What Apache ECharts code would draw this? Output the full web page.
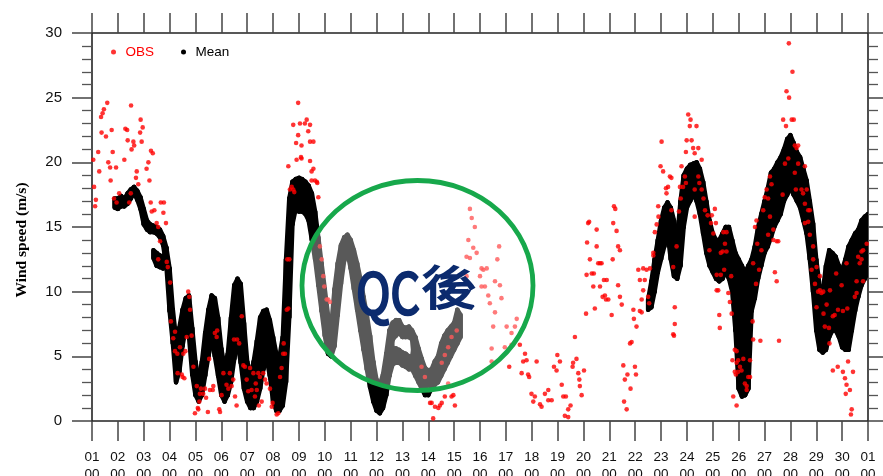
<!DOCTYPE html>
<html>
<head>
<meta charset="utf-8">
<script src="https://cdn.jsdelivr.net/npm/echarts@6/dist/echarts.min.js"></script>
<style>html,body{margin:0;padding:0;background:#fff}#c{width:883px;height:476px}</style>
</head>
<body>
<div id="c"></div>
<script>
// ---- tick labels ----
var xDayLabels = ['01','02','03','04','05','06','07','08','09','10','11','12','13','14','15','16','17','18','19','20','21','22','23','24','25','26','27','28','29','30','01'];
var xHourLabel = '00';
var yTickValues = [0, 5, 10, 15, 20, 25, 30];

// ---- OBS: [day, wind speed] ----
var obsPoints = [
[1.05,20.2],[1.08,18.1],[1.12,16.6],[1.15,17.1],[1.24,20.8],[1.28,19.3],[1.35,23.5],[1.37,22.3],[1.41,23.8],[1.46,24.1],
[1.54,22.0],[1.59,24.6],[1.63,20.0],[1.70,19.6],[1.72,18.6],[1.76,22.5],[1.80,20.8],[1.85,17.2],[1.93,19.6],[1.95,16.9],
[2.05,17.6],[2.25,20.2],[2.29,22.6],[2.36,22.5],[2.38,21.7],[2.44,16.9],[2.50,17.6],[2.51,24.4],[2.53,21.0],[2.60,21.6],
[2.63,21.3],[2.70,18.8],[2.73,19.3],[2.79,18.3],[2.86,22.3],[2.88,23.3],[2.92,21.6],[2.96,22.7],[3.11,19.5],[3.18,20.0],
[3.22,18.6],[3.27,16.9],[3.28,20.9],[3.31,16.2],[3.35,20.7],[3.41,16.3],[3.50,15.3],[3.56,15.0],[3.56,12.5],[3.63,13.9],
[3.66,16.9],[3.76,16.1],[3.78,16.9],[3.86,15.3],[3.89,12.3],[3.93,11.9],[4.02,10.7],[4.05,7.7],[4.14,6.4],[4.21,5.4],
[4.21,6.9],[4.30,5.2],[4.31,3.7],[4.40,5.7],[4.47,3.6],[4.50,3.4],[4.53,5.2],[4.57,3.3],[4.61,5.4],[4.66,6.5],[4.72,10.0],
[4.76,9.6],[4.79,8.6],[4.85,6.6],[4.92,4.2],[4.98,0.6],[5.05,2.7],[5.09,1.0],[5.11,0.9],[5.15,1.5],[5.17,2.1],[5.21,2.5],
[5.30,2.1],[5.37,2.5],[5.41,1.8],[5.48,0.7],[5.53,4.8],[5.56,2.4],[5.67,2.4],[5.69,2.7],[5.75,6.8],[5.82,6.5],[5.84,7.0],
[5.92,0.9],[5.95,0.7],[6.01,2.0],[6.08,3.7],[6.20,2.8],[6.27,2.5],[6.33,3.7],[6.40,2.7],[6.46,3.2],[6.49,6.3],[6.53,1.9],
[6.59,1.2],[6.61,6.3],[6.69,6.0],[6.79,8.1],[6.85,4.3],[6.91,4.2],[6.98,3.2],[7.04,2.3],[7.11,4.1],[7.17,2.4],[7.24,3.7],
[7.30,1.9],[7.33,2.9],[7.37,2.4],[7.43,3.7],[7.45,1.2],[7.49,3.4],[7.56,1.5],[7.62,3.7],[7.69,3.2],[7.75,2.9],[7.88,2.5],
[7.95,1.1],[7.98,1.4],[8.14,0.5],[8.20,0.6],[8.27,3.4],[8.33,4.1],[8.39,5.2],[8.41,6.0],[8.46,5.2],[8.53,8.6],[8.55,12.5],
[8.59,8.7],[8.59,19.7],[8.63,12.5],[8.65,17.9],[8.72,18.1],[8.78,17.9],[8.78,22.9],[8.82,17.7],[8.89,21.5],[8.91,20.2],
[8.97,24.6],[8.97,22.1],[9.04,23.0],[9.08,20.4],[9.10,21.3],[9.10,20.3],[9.23,23.0],[9.30,23.3],[9.36,22.4],[9.43,22.9],
[9.43,21.6],[9.43,20.1],[9.49,19.3],[9.49,18.6],[9.56,21.6],[9.56,19.5],[9.62,18.6],[9.69,18.5],[9.71,18.4],[9.75,17.3],
[9.81,13.5],[9.88,12.5],[9.94,11.2],[9.98,10.4],[10.07,9.4],[10.13,9.4],[10.20,9.2],
[13.74,4.2],[13.87,3.4],[14.00,2.4],[14.07,1.4],[14.13,1.4],[14.19,0.2],[14.26,1.1],[14.39,1.0],[14.45,1.2],[14.52,1.4],
[14.52,4.5],[14.64,1.9],[14.64,5.1],[14.77,2.9],[14.77,5.7],[14.90,1.9],[14.90,6.5],[14.97,2.0],[15.03,1.2],[15.10,7.0],
[15.48,12.7],[15.48,11.2],[15.55,14.0],[15.61,16.4],[15.61,12.6],[15.68,15.7],[15.74,13.4],[15.80,15.0],[15.87,13.0],
[16.00,11.2],[16.06,10.4],[16.06,11.8],[16.13,11.7],[16.19,10.4],[16.26,11.8],[16.32,9.7],[16.38,9.1],[16.45,5.6],
[16.45,4.6],[16.51,7.3],[16.58,10.8],[16.58,8.4],[16.67,12.5],[16.74,13.5],[16.77,10.5],[16.83,9.5],[16.96,5.7],
[17.03,7.3],[17.13,4.2],[17.22,6.8],[17.22,5.9],[17.35,7.3],[17.42,7.9],[17.54,5.9],
[17.61,3.7],[17.67,4.6],[17.74,5.2],[17.80,4.7],[17.86,3.6],[17.90,3.4],[17.99,2.1],[18.06,1.5],[18.12,1.9],[18.19,4.6],
[18.32,1.3],[18.38,1.1],[18.51,2.1],[18.64,2.4],[18.64,1.6],[18.77,1.6],[18.86,4.2],[18.96,3.9],[18.99,5.1],[19.09,4.6],
[19.16,2.8],[19.22,1.9],[19.28,0.4],[19.32,1.9],[19.41,0.3],[19.41,0.9],[19.50,1.2],[19.58,4.2],[19.60,4.5],[19.67,6.5],
[19.73,4.8],[19.80,3.7],[19.84,3.2],[19.86,2.7],[19.93,2.0],[20.02,3.9],[20.10,8.3],[20.12,11.3],[20.14,13.8],[20.18,15.3],
[20.22,15.4],[20.25,12.5],[20.32,11.4],[20.38,10.4],[20.40,11.4],[20.44,8.7],[20.51,14.8],[20.51,13.5],[20.57,12.2],
[20.64,12.2],[20.64,10.4],[20.70,12.2],[20.74,9.6],[20.79,10.9],[20.83,9.7],[20.87,9.4],[20.90,10.9],[20.96,9.4],
[21.09,8.2],[21.13,12.5],[21.15,15.3],[21.18,16.6],[21.23,16.4],[21.28,14.7],[21.34,13.5],[21.34,10.5],[21.41,13.2],
[21.41,9.6],[21.48,9.0],[21.54,4.3],[21.57,1.5],[21.60,3.2],[21.67,0.9],[21.70,3.6],[21.80,6.0],[21.82,2.5],[21.86,6.1],
[21.93,8.6],[21.95,7.9],[21.99,4.2],[22.03,3.6],[22.05,7.3],[22.12,11.7],[22.18,10.9],[22.18,8.5],[22.25,8.4],[22.25,9.4],
[22.31,10.1],[22.31,11.8],[22.37,10.9],[22.44,11.7],[22.50,9.6],[22.54,9.1],[22.57,11.8],[22.70,12.8],[22.70,13.0],
[22.76,14.6],[22.83,15.2],[22.89,16.6],[22.90,15.8],[22.98,19.7],[23.02,21.6],[23.08,19.3],[23.19,18.0],[23.21,17.6],
[23.27,18.1],[23.34,18.9],[23.40,16.3],[23.40,18.8],[23.47,6.7],[23.47,11.9],[23.50,6.6],[23.53,7.5],[23.53,8.8],[23.60,13.5],
[23.69,16.2],[23.73,18.1],[23.76,17.2],[23.79,19.7],[23.85,18.1],[23.92,18.9],[23.96,20.8],[23.96,18.4],[23.99,21.7],
[24.05,23.7],[24.11,22.8],[24.14,23.3],[24.18,21.7],[24.24,21.1],[24.30,20.7],[24.30,17.9],[24.30,15.8],[24.37,22.8],
[24.44,21.1],[24.44,18.9],[24.48,18.4],[24.57,20.2],[24.57,17.9],[24.64,17.2],[24.70,16.3],[24.80,15.9],[24.87,13.2],
[24.93,15.3],[24.96,15.9],[25.02,14.5],[25.08,16.4],[25.12,15.3],[25.15,11.3],[25.15,10.1],[25.21,10.1],[25.25,8.2],
[25.27,7.2],[25.31,13.0],[25.31,11.3],[25.38,13.1],[25.41,14.6],[25.44,11.7],[25.47,13.7],[25.53,14.6],[25.53,13.1],
[25.60,9.9],[25.66,9.2],[25.71,11.2],[25.73,8.3],[25.76,4.7],[25.79,1.9],[25.85,5.5],[25.85,3.8],[25.89,3.6],[25.92,5.4],
[25.92,4.5],[25.92,1.2],[25.98,4.7],[25.98,3.8],[26.05,4.2],[26.11,3.9],[26.18,4.8],[26.24,2.9],[26.31,2.7],[26.31,2.4],
[26.37,3.4],[26.44,3.4],[26.44,4.7],[26.54,7.7],[26.56,6.3],[26.56,12.2],[26.63,15.0],[26.67,10.6],[26.69,15.5],[26.72,13.7],
[26.79,11.7],[26.84,6.2],[26.88,13.2],[26.95,16.3],[27.01,17.3],[27.08,17.9],[27.14,17.2],[27.14,14.4],[27.21,18.9],
[27.21,15.8],[27.27,18.3],[27.34,14.8],[27.34,14.0],[27.40,11.5],[27.47,13.9],[27.47,10.8],[27.53,13.9],[27.56,6.2],
[27.70,17.5],[27.72,23.3],[27.79,19.9],[27.83,22.8],[27.85,25.5],[27.92,20.3],[27.94,29.2],[27.95,25.0],[28.05,23.3],
[28.08,27.0],[28.13,23.3],[28.17,21.3],[28.17,19.2],[28.21,17.9],[28.24,21.1],[28.30,21.3],[28.30,19.9],[28.43,17.9],
[28.49,17.6],[28.56,19.7],[28.56,16.8],[28.56,15.3],[28.63,17.9],[28.69,16.3],[28.69,15.4],[28.75,16.3],[28.75,14.4],
[28.82,11.7],[28.88,13.5],[28.88,12.5],[28.95,10.6],[29.01,11.9],[29.01,8.8],[29.07,10.0],[29.14,11.2],[29.14,10.1],
[29.20,9.9],[29.27,10.0],[29.28,8.3],[29.33,7.3],[29.40,9.0],[29.49,7.2],[29.51,6.0],[29.53,10.1],[29.64,3.9],[29.64,8.1],
[29.71,8.2],[29.77,11.4],[29.83,4.2],[29.84,8.6],[29.98,10.5],[30.03,8.5],[30.03,3.8],[30.11,3.3],[30.14,2.1],[30.17,2.8],
[30.17,12.2],[30.20,8.7],[30.23,4.6],[30.30,2.4],[30.34,0.5],[30.37,0.9],[30.42,3.8],[30.49,9.6],[30.56,10.8],[30.56,9.9],
[30.62,12.7],[30.68,12.2],[30.75,13.1],[30.75,12.5],[30.81,13.2],[30.81,10.8],[30.95,13.7]
];

// ---- Mean: envelope ranges [lo, hi(, lo2, hi2)] per 3-hour step ----
var meanStep = 0.125;
var meanStartA = 1.875;
var meanRangesA = [
[16.5,17.2],[16.4,17.2],[16.6,17.4],[16.6,17.2],[16.8,17.6],[17.2,17.9],[17.6,18.1],[17.1,17.8],[16.4,17.3],[15.2,16.4],
[14.8,15.5],[14.6,15.2],[14.6,15.1,12.6,13.2],[14.5,15.0,12.0,13.0],[14.2,14.8,11.9,12.8],[13.6,14.3,11.8,12.6],[12.0,13.4],
[8.5,11.8],[6.0,8.6],[3.0,6.4],[3.8,7.2],[5.8,8.6],[7.2,9.5],[6.5,9.7],[3.6,7.2],[2.0,4.6],[1.5,3.2],[2.0,4.6],[3.5,6.8],
[5.0,8.6],[6.2,9.7],[5.0,9.5],[3.5,8.0],[2.0,5.6],[1.5,4.2],[2.0,5.2],[3.0,8.0],[4.8,10.5],[6.0,11.0],[4.5,10.6],[2.5,7.6],
[1.5,4.6],[1.0,3.6],[1.0,4.6],[1.5,6.2],[2.5,8.0],[4.0,8.5],[4.8,8.6],[3.5,7.8],[1.5,6.5],[0.8,5.2],[0.8,5.0],[1.2,6.5],
[3.0,12.5],[8.0,17.2],[15.2,18.5],[16.4,18.7],[16.2,18.8],[16.2,18.7],[16.0,18.5],[15.5,18.2],[14.0,17.6],[12.5,16.2],
[10.5,14.2],[8.5,12.2],[6.6,10.2],[5.2,8.2],[5.0,7.4],[5.8,10.2],[8.2,12.2],[10.6,13.6],[12.4,14.2],[13.0,14.4],[11.8,14.0],
[10.2,13.2],[8.6,12.2],[7.0,11.0],[5.5,9.6],[4.0,8.2],[2.6,6.6],[1.5,4.6],[0.8,3.2],[0.6,2.8],[1.0,3.6],[2.0,5.2],[3.5,7.0],
[4.4,5.6,6.3,7.6],[4.5,5.6,6.6,7.8],[4.5,5.5,6.8,7.8],[4.3,5.3,6.5,7.3],[4.2,5.2,6.5,7.2],[4.0,5.0,6.5,7.3],[4.0,5.0,6.3,7.0],
[3.5,6.5],[3.0,5.6],[2.5,4.8],[2.0,4.1],[2.0,3.9],[2.5,4.0],[2.8,4.6],[3.0,5.0],[3.5,6.0],[4.0,6.6],[4.5,7.0],[5.0,7.3],
[5.5,7.6],[6.0,8.6],[6.5,8.2]
];
var meanStartB = 22.5;
var meanRangesB = [
[8.6,9.4],[8.8,10.8],[10.0,12.5],[11.5,14.0],[12.5,15.5],[13.5,16.5],[14.5,16.9],[12.5,16.5],[11.2,15.5],[11.0,14.2],
[12.0,17.0],[15.0,19.0],[16.5,19.5],[17.0,19.8],[17.5,19.9],[17.0,20.0],[16.0,19.5],[14.5,18.5],[13.0,17.0],[12.0,15.5],
[11.5,14.5],[11.0,14.0],[10.8,14.0],[11.0,14.5],[11.5,15.0],[11.0,15.0],[10.0,14.0],[7.0,13.0],[2.5,12.5],[1.9,12.0],
[2.0,11.5],[2.5,12.0],[8.5,12.5],[9.5,13.5],[11.0,15.0],[12.0,16.0],[13.0,17.0],[13.5,18.0],[14.2,19.2],[15.0,19.5],
[15.5,20.0],[16.0,20.4],[17.0,21.0],[17.5,21.8],[18.0,22.1],[17.5,21.5],[17.0,20.8],[16.5,20.4],[15.5,19.5],[14.5,18.6],
[12.5,17.0],[10.0,15.3],[7.0,12.5],[5.5,10.5],[5.3,10.0],[5.5,12.0],[6.5,13.2],[7.0,13.0],[7.0,12.7],[6.5,12.0],
[5.7,11.7],[5.5,12.5],[5.5,13.5],[7.0,14.0],[8.5,14.5],[9.6,14.8],[10.5,15.5],[11.0,15.8],[11.5,16.0]
];

// Build band pieces: each item [t1, lo1, hi1, t2, lo2, hi2]
function pairsOf(r) {
  var out = [];
  for (var k = 0; k + 1 < r.length; k += 2) out.push([Math.min(r[k], r[k+1]), Math.max(r[k], r[k+1])]);
  return out;
}
function gap(a, b) { return Math.max(0, Math.max(a[0], b[0]) - Math.min(a[1], b[1])); }
function buildMean(start, ranges, out) {
  for (var i = 0; i < ranges.length; i++) {
    var t = start + i * meanStep, p = pairsOf(ranges[i]);
    p.forEach(function (q) { out.push([t, q[0], q[1], t, q[0], q[1]]); });
    if (i + 1 < ranges.length) {
      var t2 = start + (i + 1) * meanStep, p2 = pairsOf(ranges[i + 1]);
      if (p.length === p2.length) {
        for (var k = 0; k < p.length; k++) out.push([t, p[k][0], p[k][1], t2, p2[k][0], p2[k][1]]);
      } else {
        p.forEach(function (a) {
          p2.forEach(function (b) {
            if (gap(a, b) < 1.0) out.push([t, a[0], a[1], t2, b[0], b[1]]);
          });
        });
      }
    }
  }
  return out;
}
var meanData = [];
buildMean(meanStartA, meanRangesA, meanData);
buildMean(meanStartB, meanRangesB, meanData);

var FONT = 'Liberation Sans, Arial, Helvetica, sans-serif';
var CJK = 'Noto Sans CJK TC, Noto Sans CJK JP, sans-serif';
var chart = echarts.init(document.getElementById('c'), null, {renderer: 'canvas'});
var axisLine = {show: true, onZero: false, lineStyle: {color: '#222', width: 1.6}};
var tickStyle = {color: '#444', width: 1.5};

chart.setOption({
  animation: false,
  backgroundColor: '#fff',
  grid: {left: 92, right: 15, top: 33, bottom: 55, containLabel: false, outerBoundsMode: 'none'},
  legend: {
    left: 106, top: 40, itemWidth: 14, itemHeight: 5, itemGap: 27,
    textStyle: {fontSize: 13.5, fontFamily: FONT},
    data: [
      {name: 'OBS', icon: 'circle', textStyle: {color: '#ff0000'}},
      {name: 'Mean', icon: 'circle', textStyle: {color: '#000000'}}
    ]
  },
  xAxis: [{
    type: 'value', min: 1, max: 31, interval: 1, position: 'bottom',
    axisLine: axisLine,
    axisTick: {show: true, inside: false, length: 20, lineStyle: tickStyle},
    axisLabel: {
      show: true, margin: 28, fontSize: 13.5, lineHeight: 17, color: '#111', fontFamily: FONT,
      formatter: function (v) { var i = Math.round(v) - 1; return xDayLabels[i] + '\n' + xHourLabel; }
    },
    splitLine: {show: false}
  }, {
    type: 'value', min: 1, max: 31, interval: 1, position: 'top',
    axisLine: axisLine,
    axisTick: {show: true, inside: false, length: 20, lineStyle: tickStyle},
    axisLabel: {show: false},
    splitLine: {show: false}
  }],
  yAxis: [{
    type: 'value', min: 0, max: 30, interval: 5, position: 'left',
    axisLine: axisLine,
    axisTick: {show: true, inside: false, length: 20, lineStyle: tickStyle},
    minorTick: {show: true, splitNumber: 5, length: 10, lineStyle: {color: '#555', width: 1.3}},
    axisLabel: {
      show: true, margin: 30, fontSize: 15, color: '#111', fontFamily: FONT,
      formatter: function (v) { return yTickValues.indexOf(v) >= 0 ? String(v) : ''; }
    },
    splitLine: {show: false}
  }, {
    type: 'value', min: 0, max: 30, interval: 5, position: 'right',
    axisLine: axisLine,
    axisTick: {show: true, inside: false, length: 16, lineStyle: tickStyle},
    minorTick: {show: true, splitNumber: 5, length: 10, lineStyle: {color: '#555', width: 1.3}},
    axisLabel: {show: false},
    splitLine: {show: false}
  }],
  series: [{
    name: 'Mean', type: 'custom', xAxisIndex: 0, yAxisIndex: 0, clip: true,
    itemStyle: {color: '#000'},
    encode: {x: [0, 3], y: [1, 2, 4, 5]},
    data: meanData,
    z: 2,
    renderItem: function (params, api) {
      var a1 = api.coord([api.value(0), api.value(2)]);
      var b1 = api.coord([api.value(0), api.value(1)]);
      var a2 = api.coord([api.value(3), api.value(5)]);
      var b2 = api.coord([api.value(3), api.value(4)]);
      return {
        type: 'polygon',
        shape: {points: [a1, a2, b2, b1]},
        style: {fill: '#000', stroke: '#000', lineWidth: 4.4, lineJoin: 'round', lineCap: 'round'}
      };
    }
  }, {
    name: 'OBS', type: 'scatter', xAxisIndex: 0, yAxisIndex: 0,
    symbol: 'circle', symbolSize: 4.6,
    itemStyle: {color: '#ff0000'},
    data: obsPoints,
    z: 3
  }],
  graphic: [
    {type: 'text', x: 22, y: 240, rotation: Math.PI / 2,
     style: {text: 'Wind speed (m/s)', fontSize: 15.5, fontWeight: 'bold', fontFamily: 'Liberation Serif, Times New Roman, serif', fill: '#000', textAlign: 'center', textVerticalAlign: 'middle'}},
    {type: 'ellipse', z: 100, shape: {cx: 417.5, cy: 285.5, rx: 115.5, ry: 105},
     style: {fill: 'rgba(255,255,255,0.35)', stroke: '#17a84b', lineWidth: 4.8}},
    {type: 'text', z: 101, x: 388, y: 292.5, scaleX: 0.82,
     style: {text: 'QC', fontSize: 56, fontFamily: CJK, fill: '#0c2b6e', stroke: '#0c2b6e', lineWidth: 2.6, lineJoin: 'round', textAlign: 'center', textVerticalAlign: 'middle'}},
    {type: 'text', z: 101, x: 449, y: 287, scaleX: 1.2,
     style: {text: '後', fontSize: 46, fontFamily: CJK, fill: '#0c2b6e', stroke: '#0c2b6e', lineWidth: 1.8, lineJoin: 'round', textAlign: 'center', textVerticalAlign: 'middle'}}
  ]
});
</script>
</body>
</html>
